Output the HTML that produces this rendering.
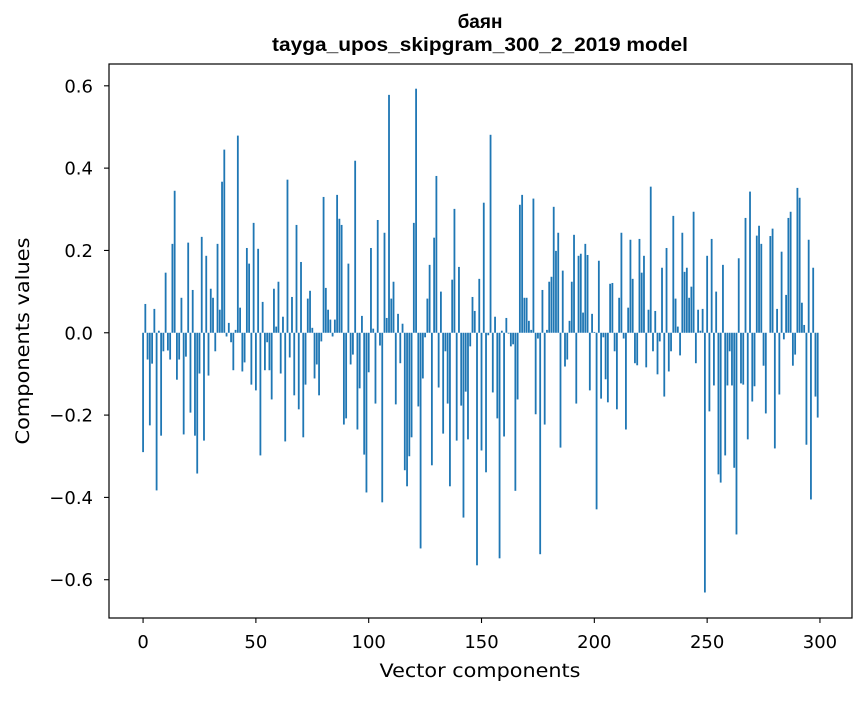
<!DOCTYPE html>
<html><head><meta charset="utf-8"><style>
html,body{margin:0;padding:0;background:#fff;}
svg text{font-family:"DejaVu Sans","Liberation Sans",sans-serif;fill:#000;}
</style></head><body>
<svg id="chart" width="867" height="696" viewBox="0 0 867 696" xmlns="http://www.w3.org/2000/svg">
<rect width="867" height="696" fill="#fff"/>
<text x="480" y="28" text-anchor="middle" style="font-family:'Liberation Sans',sans-serif;font-weight:bold;font-size:19px">баян</text>
<text x="480" y="51" text-anchor="middle" textLength="416" lengthAdjust="spacingAndGlyphs" style="font-family:'Liberation Sans',sans-serif;font-weight:bold;font-size:19px">tayga_upos_skipgram_300_2_2019 model</text>
<g id="bars"></g>
<g id="axes"></g>
<text x="480" y="677" text-anchor="middle" font-size="19" textLength="201" lengthAdjust="spacingAndGlyphs">Vector components</text>
<text transform="translate(29,341) rotate(-90)" text-anchor="middle" font-size="19" textLength="207" lengthAdjust="spacingAndGlyphs">Components values</text>
</svg>
<script>
const values = [
-0.29,0.07,-0.065,-0.225,-0.075,0.058,-0.383,0.005,-0.25,-0.045,
0.146,-0.043,-0.065,0.216,0.345,-0.114,-0.065,0.085,-0.247,-0.058,
0.219,-0.194,0.104,-0.25,-0.342,-0.099,0.233,-0.262,0.187,-0.104,
0.107,0.085,-0.045,0.216,0.056,0.367,0.445,-0.009,0.024,-0.023,
-0.091,0.007,0.479,0.061,-0.094,-0.072,0.206,0.168,-0.126,0.267,
-0.14,0.204,-0.298,0.075,-0.091,-0.023,-0.091,-0.162,0.107,0.015,
0.124,-0.099,0.039,-0.264,0.372,-0.06,0.087,-0.152,0.262,-0.186,
0.172,-0.254,-0.126,0.083,0.102,0.012,-0.111,-0.077,-0.152,-0.021,
0.33,0.109,0.056,0.032,-0.009,0.032,0.335,0.277,0.262,-0.223,
-0.208,0.168,-0.077,-0.053,0.418,-0.235,-0.135,0.041,-0.296,-0.388,
-0.096,0.206,0.01,-0.172,0.274,-0.031,-0.412,0.243,0.036,0.578,
0.083,0.124,-0.174,0.046,-0.074,0.022,-0.334,-0.373,-0.3,-0.254,
0.267,0.593,-0.179,-0.524,-0.111,-0.011,0.083,0.165,-0.322,0.231,
0.381,-0.133,0.1,-0.245,-0.045,-0.172,-0.373,0.129,0.301,-0.262,
0.16,-0.177,-0.449,-0.143,-0.259,-0.033,0.087,0.053,-0.565,0.131,
-0.286,0.316,-0.339,-0.006,0.481,-0.145,0.039,-0.208,-0.548,0.005,
-0.252,0.036,-0.002,-0.033,-0.028,-0.384,-0.162,0.311,0.335,0.085,
0.085,0.029,0.007,0.326,-0.198,-0.014,-0.538,0.104,-0.223,0.007,
0.124,0.136,0.306,0.199,0.243,-0.279,0.151,-0.082,-0.065,0.029,
0.124,0.238,-0.172,0.187,0.192,0.049,0.216,0.189,-0.14,0.046,
0.002,-0.429,0.175,-0.16,-0.011,-0.113,-0.169,0.119,0.121,-0.045,
-0.186,0.085,0.243,-0.014,-0.235,0.061,0.226,0.131,-0.074,-0.079,
0.228,0.146,0.187,-0.084,0.056,0.355,-0.045,0.053,-0.101,-0.021,
0.158,-0.155,0.206,-0.094,-0.045,0.284,0.083,0.015,-0.055,0.243,
0.148,0.158,0.085,0.112,0.294,-0.074,0.056,0.005,0.058,-0.631,
0.187,-0.191,0.228,-0.128,0.1,-0.344,-0.364,0.165,-0.298,-0.128,
-0.045,-0.128,-0.328,-0.49,0.181,-0.123,-0.126,0.279,-0.259,0.343,
-0.167,-0.13,0.236,0.26,0.216,-0.08,-0.196,0.0,0.235,0.253,
-0.281,0.058,-0.15,0.197,-0.016,0.092,0.279,0.294,-0.08,-0.053,
0.352,0.328,0.073,0.019,-0.272,0.226,-0.405,0.158,-0.155,-0.206
];
const xTicks = [0,50,100,150,200,250,300];
const yTicks = [-0.6,-0.4,-0.2,0.0,0.2,0.4,0.6];
const yTickLabels = ["\u22120.6","\u22120.4","\u22120.2","0.0","0.2","0.4","0.6"];

const L=109,R=852,T=64,B=618;
const xMin=-15.1,xMax=314.2,yMin=-0.693,yMax=0.653;
const xs=v=>L+(v-xMin)/(xMax-xMin)*(R-L);
const ys=v=>B-(v-yMin)/(yMax-yMin)*(B-T);
const NS="http://www.w3.org/2000/svg";
const bars=document.getElementById('bars');
values.forEach((v,i)=>{
  const r=document.createElementNS(NS,'rect');
  const x0=xs(i-0.4),x1=xs(i+0.4);
  const y0=ys(Math.max(v,0)),y1=ys(Math.min(v,0));
  r.setAttribute('x',x0);r.setAttribute('width',x1-x0);
  r.setAttribute('y',y0);r.setAttribute('height',Math.max(y1-y0,0.01));
  r.setAttribute('fill','#1f77b4');
  
  
  bars.appendChild(r);
});
const ax=document.getElementById('axes');
const frame=document.createElementNS(NS,'rect');
frame.setAttribute('x',L);frame.setAttribute('y',T);frame.setAttribute('width',R-L);frame.setAttribute('height',B-T);
frame.setAttribute('fill','none');frame.setAttribute('stroke','#000');frame.setAttribute('stroke-width','1.2');


ax.appendChild(frame);
xTicks.forEach(t=>{
  const x=xs(t);
  const l=document.createElementNS(NS,'line');
  l.setAttribute('x1',x);l.setAttribute('x2',x);l.setAttribute('y1',B);l.setAttribute('y2',B+5);
  l.setAttribute('stroke','#000');l.setAttribute('stroke-width','1.1');
  
  
  ax.appendChild(l);
  const tx=document.createElementNS(NS,'text');
  tx.setAttribute('x',x);tx.setAttribute('y',B+30);tx.setAttribute('text-anchor','middle');tx.setAttribute('font-size','18');
  tx.textContent=t;
  
  
  ax.appendChild(tx);
});
yTicks.forEach((t,k)=>{
  const y=ys(t);
  const l=document.createElementNS(NS,'line');
  l.setAttribute('x1',L-5);l.setAttribute('x2',L);l.setAttribute('y1',y);l.setAttribute('y2',y);
  l.setAttribute('stroke','#000');l.setAttribute('stroke-width','1.1');
  
  
  ax.appendChild(l);
  const tx=document.createElementNS(NS,'text');
  tx.setAttribute('x',L-16);tx.setAttribute('y',y+6.5);tx.setAttribute('text-anchor','end');tx.setAttribute('font-size','18');
  tx.textContent=yTickLabels[k];
  
  
  ax.appendChild(tx);
});
</script>
</body></html>
